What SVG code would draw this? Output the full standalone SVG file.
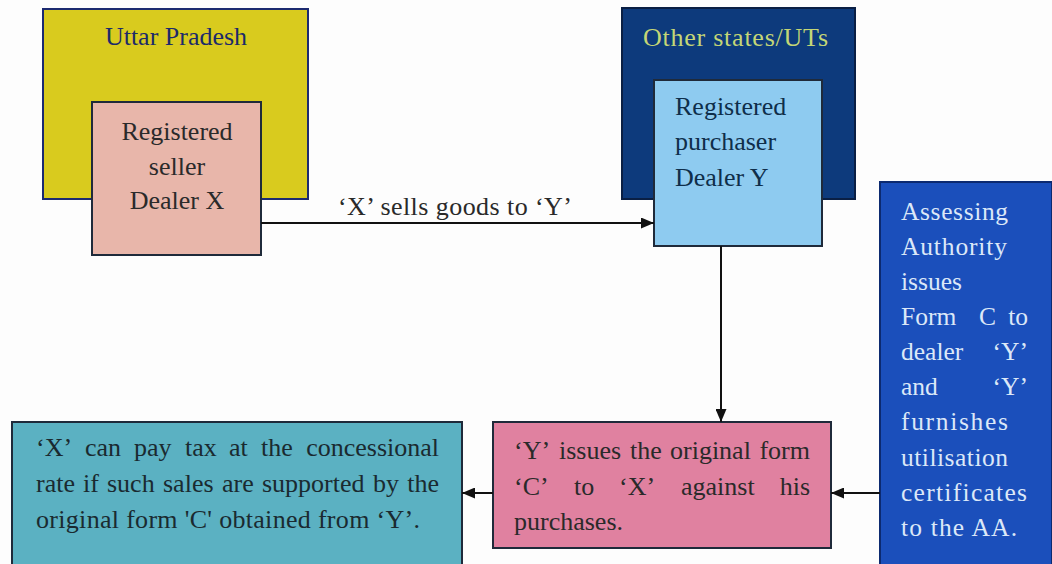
<svg xmlns="http://www.w3.org/2000/svg" width="1052" height="564" viewBox="0 0 1052 564">
<defs>
<style>
text{font-family:"Liberation Serif","Times New Roman",serif;font-size:26px;fill:#2a2a2a;}
.box{stroke:#1f2a3a;stroke-width:2;}
.tb{fill:#0f2e4a;}
.aa{font-size:25.5px;fill:#dce8f8;}
.teal{fill:#1a2a30;}
.conn{stroke:#111;stroke-width:2;fill:none;}
</style>
<marker id="ah" viewBox="0 0 13 11" refX="13" refY="5.5" markerWidth="13" markerHeight="11" markerUnits="userSpaceOnUse" orient="auto">
<path d="M0,0 L13,5.5 L0,11 z" fill="#111"/>
</marker>
</defs>
<rect width="1052" height="564" fill="#fdfdfd"/>
<g id="uttar-pradesh">
<rect x="43" y="9" width="265" height="190" fill="#d9cb1e" stroke="#1c2a70" stroke-width="2"/>
<text x="176" y="45" text-anchor="middle" style="fill:#1c2a6a">Uttar Pradesh</text>
</g>
<g id="other-states">
<rect x="622" y="8" width="233" height="191" fill="#0d3a7c" stroke="#0a1f44" stroke-width="2"/>
<text x="643" y="46" textLength="185" lengthAdjust="spacing" style="fill:#c4d676">Other states/UTs</text>
</g>
<g id="dealer-x">
<rect class="box" x="92" y="102" width="169" height="153" fill="#e8b6aa"/>
<text text-anchor="middle"><tspan x="177" y="140">Registered</tspan><tspan x="177" y="175">seller</tspan><tspan x="177" y="209">Dealer X</tspan></text>
</g>
<g id="dealer-y">
<rect class="box" x="654" y="80" width="168" height="166" fill="#8ecbf0" stroke="#0f2a44"/>
<text class="tb"><tspan x="675" y="115">Registered</tspan><tspan x="675" y="150">purchaser</tspan><tspan x="675" y="186">Dealer Y</tspan></text>
</g>
<g id="assessing-authority">
<rect x="880" y="182" width="172" height="384" fill="#1b4fbb" stroke="#0c2a70" stroke-width="2"/>
<text class="aa" x="901" y="220" textLength="107" lengthAdjust="spacing">Assessing</text>
<text class="aa" x="901" y="255" textLength="106" lengthAdjust="spacing">Authority</text>
<text class="aa" x="901" y="290">issues</text>
<text class="aa" y="325"><tspan x="901">Form</tspan><tspan x="979">C</tspan><tspan x="1028" text-anchor="end">to</tspan></text>
<text class="aa" y="360"><tspan x="901">dealer</tspan><tspan x="1028" text-anchor="end">‘Y’</tspan></text>
<text class="aa" y="395"><tspan x="901">and</tspan><tspan x="1028" text-anchor="end">‘Y’</tspan></text>
<text class="aa" x="901" y="430" textLength="107" lengthAdjust="spacing">furnishes</text>
<text class="aa" x="901" y="466" textLength="107" lengthAdjust="spacing">utilisation</text>
<text class="aa" x="901" y="501" textLength="126" lengthAdjust="spacing">certificates</text>
<text class="aa" x="901" y="536" textLength="116" lengthAdjust="spacing">to the AA.</text>
</g>
<g id="y-issues">
<rect class="box" x="493" y="422" width="338" height="126" fill="#e081a0"/>
<text y="459"><tspan x="514">‘Y’</tspan><tspan x="559">issues</tspan><tspan x="630">the</tspan><tspan x="670">original</tspan><tspan x="810" text-anchor="end">form</tspan></text>
<text y="495"><tspan x="514">‘C’</tspan><tspan x="574">to</tspan><tspan x="619">‘X’</tspan><tspan x="681">against</tspan><tspan x="810" text-anchor="end">his</tspan></text>
<text x="514" y="530">purchases.</text>
</g>
<g id="x-pays">
<rect class="box" x="12" y="422" width="450" height="150" fill="#5bb1c2"/>
<text class="teal" y="456"><tspan x="36">‘X’</tspan><tspan x="85">can</tspan><tspan x="134">pay</tspan><tspan x="185">tax</tspan><tspan x="229">at</tspan><tspan x="261">the</tspan><tspan x="439" text-anchor="end">concessional</tspan></text>
<text class="teal" y="492"><tspan x="36">rate</tspan><tspan x="83">if</tspan><tspan x="107">such</tspan><tspan x="163">sales</tspan><tspan x="222">are</tspan><tspan x="262">supported</tspan><tspan x="373">by</tspan><tspan x="439" text-anchor="end">the</tspan></text>
<text class="teal" x="36" y="528" textLength="384" lengthAdjust="spacing">original form 'C' obtained from ‘Y’.</text>
</g>
<g id="connectors">
<line class="conn" x1="261" y1="223" x2="654" y2="223" marker-end="url(#ah)"/>
<text x="338" y="215" textLength="234" lengthAdjust="spacing">‘X’ sells goods to ‘Y’</text>
<line class="conn" x1="721" y1="246" x2="721" y2="422" marker-end="url(#ah)"/>
<line class="conn" x1="880" y1="493" x2="831" y2="493" marker-end="url(#ah)"/>
<line class="conn" x1="493" y1="493" x2="462" y2="493" marker-end="url(#ah)"/>
</g>
</svg>
